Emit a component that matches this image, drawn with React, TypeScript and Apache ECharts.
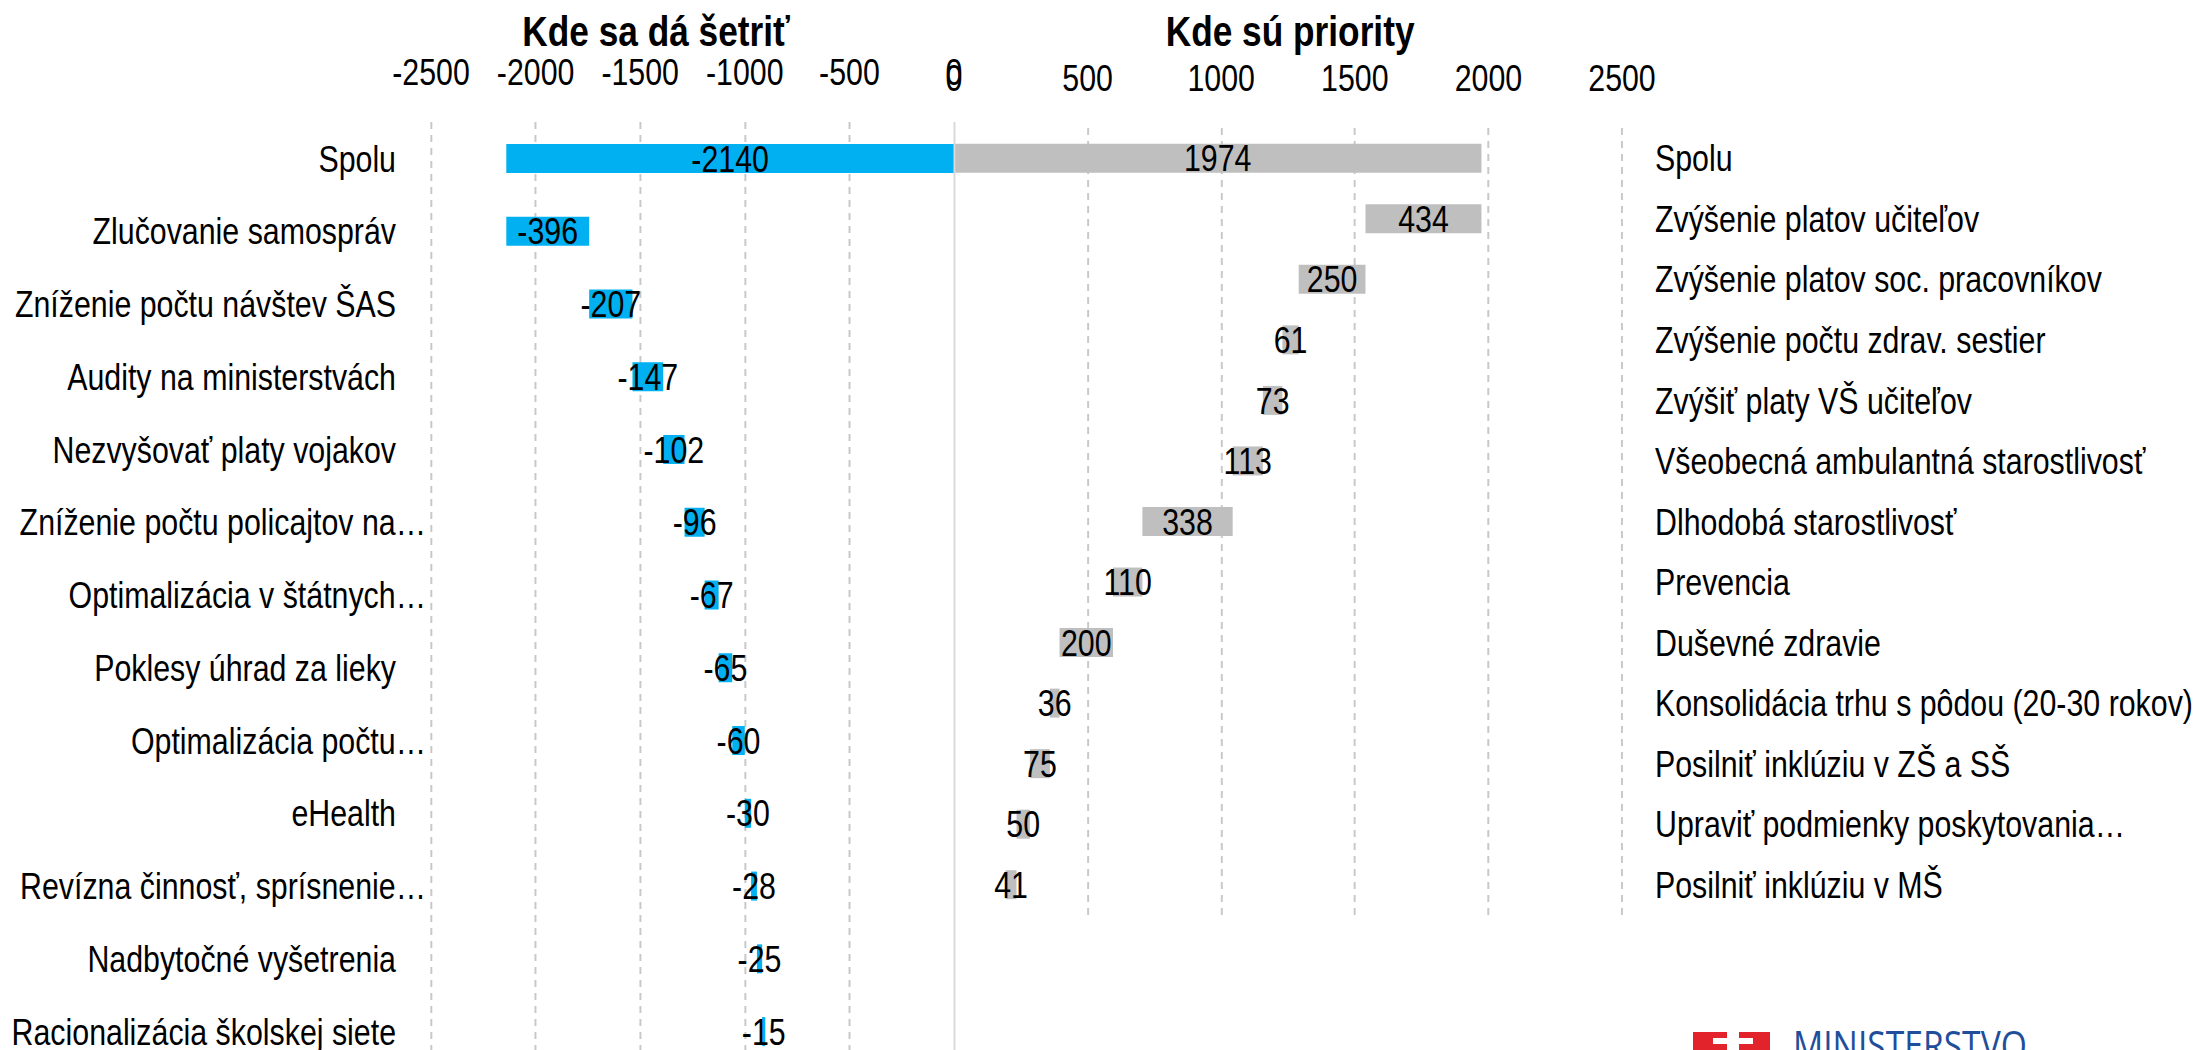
import React, { useEffect, useRef } from "react";
import * as echarts from "echarts";

// ---- data ----
const leftTitle = "Kde sa dá šetriť";
const rightTitle = "Kde sú priority";

const leftCats = [
  "Spolu",
  "Zlučovanie samospráv",
  "Zníženie počtu návštev ŠAS",
  "Audity na ministerstvách",
  "Nezvyšovať platy vojakov",
  "Zníženie počtu policajtov na…",
  "Optimalizácia v štátnych…",
  "Poklesy úhrad za lieky",
  "Optimalizácia počtu…",
  "eHealth",
  "Revízna činnosť, sprísnenie…",
  "Nadbytočné vyšetrenia",
  "Racionalizácia školskej siete",
];
const leftTotal = -2140;
const leftItems = [-396, -207, -147, -102, -96, -67, -65, -60, -30, -28, -25, -15];

const rightCats = [
  "Spolu",
  "Zvýšenie platov učiteľov",
  "Zvýšenie platov soc. pracovníkov",
  "Zvýšenie počtu zdrav. sestier",
  "Zvýšiť platy VŠ učiteľov",
  "Všeobecná ambulantná starostlivosť",
  "Dlhodobá starostlivosť",
  "Prevencia",
  "Duševné zdravie",
  "Konsolidácia trhu s pôdou (20-30 rokov)",
  "Posilniť inklúziu v ZŠ a SŠ",
  "Upraviť podmienky poskytovania…",
  "Posilniť inklúziu v MŠ",
];
const rightTotal = 1974;
const rightItems = [434, 250, 61, 73, 113, 338, 110, 200, 36, 75, 50, 41];

const axisMin = -2500;
const axisMax = 2500;
const axisStep = 500;

const logoText = "MINISTERSTVO";

// ---- helpers (waterfall bases from the values) ----
function waterfall(total: number, items: number[]) {
  const bases: number[] = [0];
  const vals: number[] = [total];
  let cum = 0;
  for (const v of items) {
    cum += v;
    bases.push(total - cum);
    vals.push(v);
  }
  return { bases, vals };
}

// Text in the reference is a narrow (82 %) Arial; render the chart wider and
// compress it horizontally so Liberation Sans takes the same narrow shape.
const PAGE_W = 2199;
const PAGE_H = 1050;
const SX = 0.82;
const INNER_W = Math.round(PAGE_W / SX);
const X = (px: number) => px / SX;

const FONT = "'Liberation Sans', Arial, sans-serif";
const FS = 37;
const BLUE = "#00B0F0";
const GRAY = "#BFBFBF";
const GRID = "#C8C8C8";

export default function App() {
  const ref = useRef<HTMLDivElement>(null);

  useEffect(() => {
    if (!ref.current) return;
    const chart = echarts.init(ref.current, undefined, { renderer: "svg" });
    const L = waterfall(leftTotal, leftItems);
    const R = waterfall(rightTotal, rightItems);

    const valueLabel = {
      show: true,
      position: "inside",
      color: "#000",
      fontSize: FS,
      fontFamily: FONT,
      formatter: (p: any) => String(p.value),
    };
    const tickLabel = {
      show: true,
      showMinLabel: true,
      showMaxLabel: true,
      hideOverlap: false,
      color: "#000",
      fontSize: FS,
      fontFamily: FONT,
      margin: 32,
      formatter: (v: number) => String(v),
    };
    const split = {
      show: true,
      lineStyle: { color: GRID, width: 2.4, type: [7, 6] as any },
    };

    const option: any = {
      animation: false,
      backgroundColor: "#fff",
      title: [
        {
          text: leftTitle,
          left: X(652),
          top: 4,
          textAlign: "center",
          textStyle: { fontSize: 43, fontWeight: "bold", fontFamily: FONT, color: "#000" },
        },
        {
          text: rightTitle,
          left: X(1286),
          top: 4,
          textAlign: "center",
          textStyle: { fontSize: 43, fontWeight: "bold", fontFamily: FONT, color: "#000" },
        },
      ],
      grid: [
        {
          left: X(431),
          top: 122,
          width: X(523),
          height: 946,
          containLabel: false,
          outerBoundsMode: "none",
        },
        {
          left: X(954),
          top: 128,
          width: X(668),
          height: 787,
          containLabel: false,
          outerBoundsMode: "none",
        },
      ],
      xAxis: [
        {
          type: "value",
          gridIndex: 0,
          position: "top",
          min: axisMin,
          max: 0,
          interval: axisStep,
          axisLine: { show: false },
          axisTick: { show: false },
          axisLabel: tickLabel,
          splitLine: { ...split, showMaxLine: false },
        },
        {
          type: "value",
          gridIndex: 1,
          position: "top",
          min: 0,
          max: axisMax,
          interval: axisStep,
          axisLine: { show: false },
          axisTick: { show: false },
          axisLabel: tickLabel,
          splitLine: { ...split, showMinLine: false },
        },
      ],
      yAxis: [
        {
          type: "category",
          gridIndex: 0,
          inverse: true,
          data: leftCats,
          axisLine: { show: false },
          axisTick: { show: false },
          axisLabel: {
            margin: X(5),
            interval: 0,
            color: "#000",
            fontSize: FS,
            fontFamily: FONT,
            formatter: (v: string) => (v.endsWith("…") ? `{t|${v}}` : `{n|${v}}`),
            rich: {
              n: { fontSize: FS, fontFamily: FONT, color: "#000", padding: [0, X(30), 0, 0] },
              t: { fontSize: FS, fontFamily: FONT, color: "#000" },
            },
          },
        },
        {
          type: "category",
          gridIndex: 1,
          position: "right",
          inverse: true,
          data: rightCats,
          axisLine: { show: false },
          axisTick: { show: false },
          axisLabel: { margin: X(33), interval: 0, color: "#000", fontSize: FS, fontFamily: FONT },
        },
      ],
      series: [
        {
          type: "bar",
          xAxisIndex: 0,
          yAxisIndex: 0,
          stack: "L",
          data: L.bases,
          barWidth: 29,
          silent: true,
          itemStyle: { color: "rgba(0,0,0,0)" },
        },
        {
          type: "bar",
          xAxisIndex: 0,
          yAxisIndex: 0,
          stack: "L",
          data: L.vals,
          barWidth: 29,
          itemStyle: { color: BLUE },
          label: valueLabel,
          markLine: {
            silent: true,
            symbol: ["none", "none"],
            label: { show: false },
            lineStyle: { color: "#D9D9D9", width: 2.4, type: "solid" },
            data: [{ xAxis: 0 }],
          },
        },
        {
          type: "bar",
          xAxisIndex: 1,
          yAxisIndex: 1,
          stack: "R",
          data: R.bases,
          barWidth: 29,
          silent: true,
          itemStyle: { color: "rgba(0,0,0,0)" },
        },
        {
          type: "bar",
          xAxisIndex: 1,
          yAxisIndex: 1,
          stack: "R",
          data: R.vals,
          barWidth: 29,
          itemStyle: { color: GRAY },
          label: valueLabel,
        },
      ],
      graphic: [
        { type: "rect", shape: { x: X(1693), y: 1032, width: X(77), height: 40 }, style: { fill: "#E3232B" } },
        { type: "rect", shape: { x: X(1727), y: 1032, width: X(12), height: 30 }, style: { fill: "#fff" } },
        { type: "rect", shape: { x: X(1713), y: 1038, width: X(40), height: 6 }, style: { fill: "#fff" } },
        {
          type: "text",
          x: X(1793),
          y: 1024,
          style: {
            text: logoText,
            fill: "#1F4E9B",
            fontSize: 41,
            fontFamily: "'Open Sans', sans-serif",
            textVerticalAlign: "top",
          },
        },
      ],
    };
    chart.setOption(option);
    return () => chart.dispose();
  }, []);

  return (
    <div
      style={{
        position: "absolute",
        left: 0,
        top: 0,
        width: PAGE_W,
        height: PAGE_H,
        overflow: "hidden",
        background: "#fff",
      }}
    >
      <div
        ref={ref}
        style={{
          width: INNER_W,
          height: PAGE_H,
          transform: `scaleX(${SX})`,
          transformOrigin: "0 0",
        }}
      />
    </div>
  );
}
